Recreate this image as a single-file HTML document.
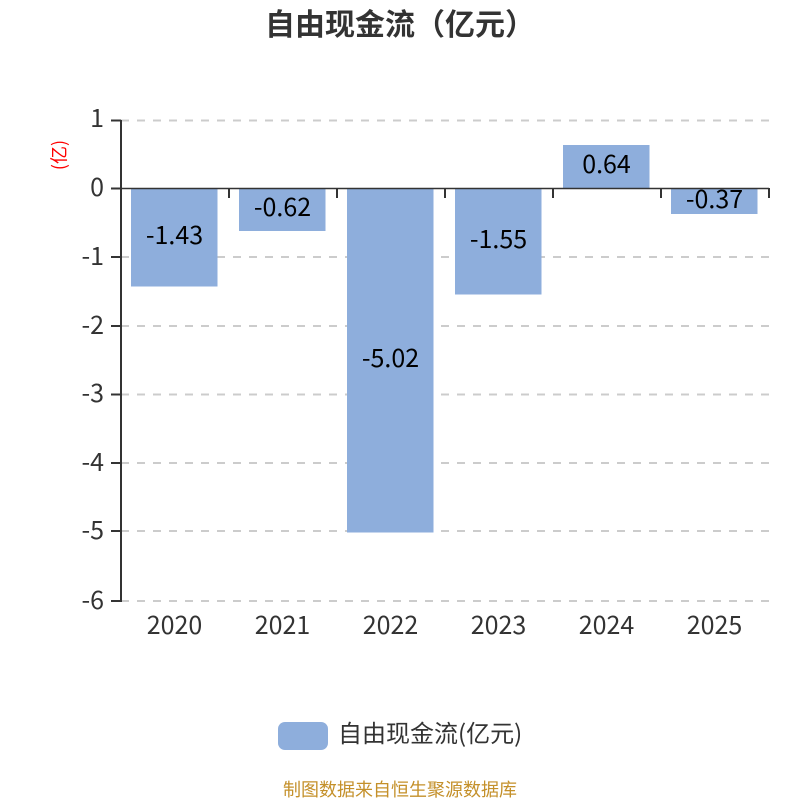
<!DOCTYPE html>
<html><head><meta charset="utf-8"><style>html,body{margin:0;padding:0;background:#fff}svg{display:block}text{font-family:"Noto Sans CJK SC",sans-serif}</style></head>
<body>
<svg width="800" height="800" viewBox="0 0 800 800" xmlns="http://www.w3.org/2000/svg">
<rect width="800" height="800" fill="#fff"/>
<text x="400" y="35" font-size="30" font-weight="700" fill="#333" text-anchor="middle">自由现金流（亿元）</text>
<g stroke="#ccc" stroke-width="2" stroke-dasharray="8 8" fill="none">
<path d="M121 120.500H769M121 257H769M121 326H769M121 394.500H769M121 463H769M121 531H769M121 601H769"/>
</g>
<g fill="#8eaedc">
<rect x="131" y="188.500" width="86.500" height="98"/>
<rect x="239" y="188.500" width="86.500" height="42.500"/>
<rect x="347" y="188.500" width="86.500" height="344"/>
<rect x="455" y="188.500" width="86.500" height="106"/>
<rect x="563" y="145" width="86.500" height="43.500"/>
<rect x="671" y="188.500" width="86.500" height="25.500"/>
</g>
<g stroke="#333" stroke-width="2" fill="none">
<path d="M121 120V602"/>
<path d="M111 120.500H121M111 188.500H121M111 257H121M111 326H121M111 394.500H121M111 463H121M111 531H121M111 601H121"/>
<path d="M121 188.500H769" stroke-width="1.500"/>
<path d="M229 188V198M337 188V198M445 188V198M553 188V198M661 188V198M769 188V198"/>
</g>
<g font-size="25" fill="#333" text-anchor="end">
<text x="104" y="127">1</text>
<text x="104" y="196">0</text>
<text x="104" y="265">-1</text>
<text x="104" y="334">-2</text>
<text x="104" y="402">-3</text>
<text x="104" y="471">-4</text>
<text x="104" y="539">-5</text>
<text x="104" y="609">-6</text>
</g>
<text transform="translate(65.500 155) rotate(-90)" font-size="18" fill="#f00" text-anchor="middle">(亿)</text>
<g font-size="25" fill="#333" text-anchor="middle">
<text x="174.500" y="634">2020</text>
<text x="282.500" y="634">2021</text>
<text x="390.500" y="634">2022</text>
<text x="498.500" y="634">2023</text>
<text x="606.500" y="634">2024</text>
<text x="714.500" y="634">2025</text>
</g>
<g font-size="25" fill="#000" text-anchor="middle">
<text x="174.500" y="244">-1.43</text>
<text x="282.500" y="216">-0.62</text>
<text x="390.500" y="367">-5.02</text>
<text x="498.500" y="248">-1.55</text>
<text x="606.500" y="173">0.64</text>
<text x="714.500" y="208">-0.37</text>
</g>
<rect x="278" y="722" width="50" height="28" rx="7" fill="#8eaedc"/>
<text x="338" y="742" font-size="24" fill="#333">自由现金流(亿元)</text>
<text x="400" y="796" font-size="18" fill="#c4902a" text-anchor="middle">制图数据来自恒生聚源数据库</text>
</svg>
</body></html>
